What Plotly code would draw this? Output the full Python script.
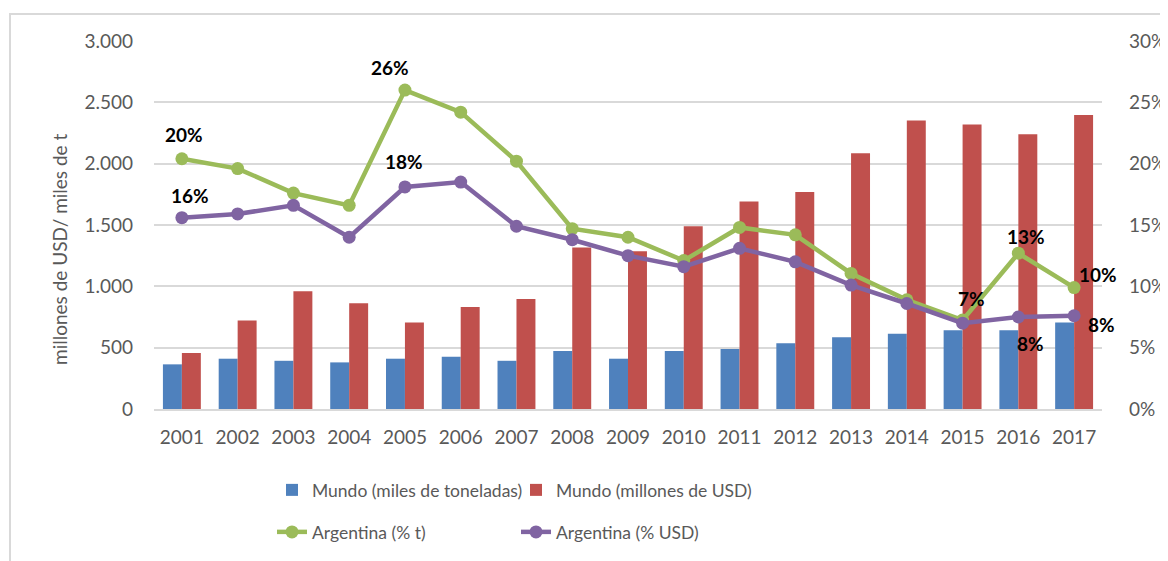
import plotly.graph_objects as go

years = [str(y) for y in range(2001, 2018)]
mundo_t = [364, 410, 393, 380, 410, 426, 393, 472, 410, 472, 489, 535, 584, 613, 643, 643, 706]
mundo_usd = [456, 722, 959, 863, 706, 831, 896, 1317, 1287, 1490, 1692, 1770, 2085, 2351, 2319, 2240, 2397]
arg_t = [20.4, 19.6, 17.6, 16.6, 26.0, 24.2, 20.2, 14.7, 14.0, 12.1, 14.8, 14.2, 11.05, 8.9, 7.25, 12.7, 9.9]
arg_usd = [15.6, 15.9, 16.6, 14.0, 18.1, 18.5, 14.9, 13.8, 12.5, 11.6, 13.1, 12.0, 10.1, 8.6, 7.0, 7.5, 7.6]

left_ticks = [0, 500, 1000, 1500, 2000, 2500, 3000]
right_ticks = [0, 5, 10, 15, 20, 25, 30]
right_ticktext = [f"{v}%" for v in right_ticks]

# labelled points: year -> (x shift px, y shift px)
lab_t = {"2001": (2, 24), "2005": (-15, 23), "2015": (9, 22), "2016": (8, 17), "2017": (24, 13)}
lab_usd = {"2001": (8, 22), "2005": (-1, 25), "2016": (12, -26), "2017": (27, -9)}

BLUE, RED, GREEN, PURPLE = "#4F81BD", "#C0504D", "#9BBB59", "#8064A2"
GRID = "#D9D9D9"
TXT = "#595959"
FONT = "Lato"

fig = go.Figure()
fig.add_trace(go.Bar(x=years, y=mundo_t, name="Mundo (miles de toneladas)", marker_color=BLUE,
                     marker_line_width=0, legend="legend"))
fig.add_trace(go.Bar(x=years, y=mundo_usd, name="Mundo (millones de USD)", marker_color=RED,
                     marker_line_width=0, legend="legend"))
fig.add_trace(go.Scatter(x=years, y=arg_t, name="Argentina (% t)", yaxis="y2", mode="lines+markers",
                         line=dict(color=GREEN, width=4.5), marker=dict(size=13, color=GREEN),
                         cliponaxis=False, legend="legend2"))
fig.add_trace(go.Scatter(x=years, y=arg_usd, name="Argentina (% USD)", yaxis="y2", mode="lines+markers",
                         line=dict(color=PURPLE, width=4.5), marker=dict(size=13, color=PURPLE),
                         cliponaxis=False, legend="legend2"))

annotations = []
for vals, spec in ((arg_t, lab_t), (arg_usd, lab_usd)):
    for i, (y, v) in enumerate(zip(years, vals)):
        if y in spec:
            dx, dy = spec[y]
            annotations.append(dict(x=i, y=v, xref="x", yref="y2", text=f"{round(v)}%", showarrow=False,
                                    xshift=dx, yshift=dy, xanchor="center", yanchor="middle",
                                    font=dict(family=FONT, size=19, color="black", weight="bold")))

# page offset of the plot div (browser body margin)
OFF = 8
W, H = 1168 - OFF, 561 - OFF
L, R, T, B = 154 - OFF, 66, 41 - OFF, 152
pw, ph = W - L - R, H - T - B

def px_x(x):
    return (x - OFF - L) / pw

def px_y(y):
    return (H + OFF - B - y) / ph

annotations.append(dict(text="millones de USD/ miles de t", textangle=-90, xref="paper", yref="paper",
                        x=px_x(59), y=px_y(250), xanchor="center", yanchor="middle", showarrow=False,
                        font=dict(family=FONT, size=19, color=TXT)))

fig.update_layout(
    width=W, height=H,
    margin=dict(l=L, r=R, t=T, b=B, autoexpand=False),
    paper_bgcolor="white", plot_bgcolor="white",
    separators=",.",
    barmode="group", bargap=0.32, bargroupgap=0,
    font=dict(family=FONT, size=19, color=TXT),
    xaxis=dict(type="category", range=[-0.5, 16.5], showgrid=False, showline=True, linecolor=GRID,
               linewidth=1.5, ticks="", tickfont=dict(size=19, color=TXT), ticklabelstandoff=10,
               automargin=False),
    yaxis=dict(range=[0, 3000], tickvals=left_ticks, tickformat=",.0f", showgrid=True, gridcolor=GRID,
               gridwidth=1.5, zeroline=False, showline=False, ticks="", ticklabelstandoff=20,
               tickfont=dict(size=19, color=TXT), automargin=False),
    yaxis2=dict(range=[0, 30], tickmode="array", tickvals=right_ticks, ticktext=right_ticktext,
                overlaying="y", side="right", showgrid=False, zeroline=False, showline=False, ticks="",
                ticklabelstandoff=26, tickfont=dict(size=19, color=TXT), automargin=False),
    legend=dict(orientation="h", x=px_x(272), y=px_y(490), xanchor="left", yanchor="middle",
                entrywidth=199, entrywidthmode="pixels", font=dict(size=17.5, color=TXT),
                itemclick=False, traceorder="normal"),
    legend2=dict(orientation="h", x=px_x(272), y=px_y(532), xanchor="left", yanchor="middle",
                 entrywidth=199, entrywidthmode="pixels", font=dict(size=17.5, color=TXT),
                 itemclick=False, traceorder="normal"),
    showlegend=True,
    annotations=annotations,
    shapes=[dict(type="rect", xref="paper", yref="paper", x0=px_x(10), x1=px_x(1180),
                 y0=px_y(580), y1=px_y(14), line=dict(color=GRID, width=2), fillcolor="rgba(0,0,0,0)",
                 layer="below")],
)

fig.write_html("out.html")
